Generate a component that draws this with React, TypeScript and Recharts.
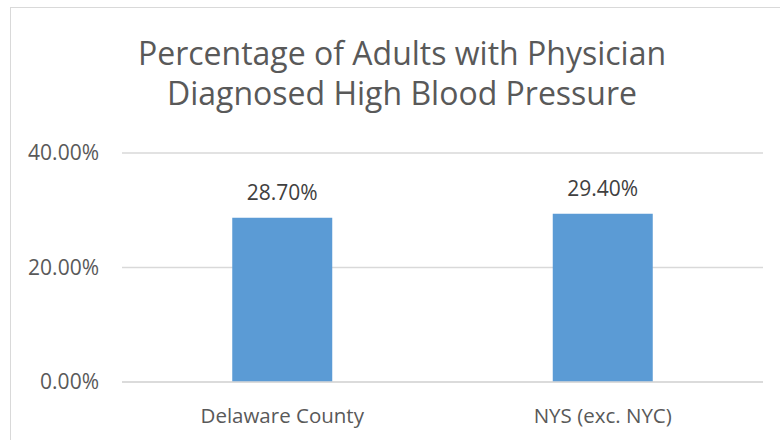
import React from 'react';
import { BarChart, Bar, XAxis, YAxis, CartesianGrid, LabelList } from 'recharts';

const categories = ['Delaware County', 'NYS (exc. NYC)'];
const values = [28.7, 29.4];
const yTicks = [0, 20, 40];
const titleLines = ['Percentage of Adults with Physician', 'Diagnosed High Blood Pressure'];

const data = categories.map((name, i) => ({ name, value: values[i] }));

const FONT = '"Open Sans", "Liberation Sans", sans-serif';
const TEXT = '#595959';
const fmt = (v: number) => `${Number(v).toFixed(2)}%`;

export default function App() {
  return (
    <div style={{ position: 'absolute', left: 0, top: 0, width: 780, height: 440, overflow: 'hidden', background: '#fff', fontFamily: FONT }}>
      <div style={{ position: 'absolute', left: 10, top: 7, width: 820, height: 520, border: '1px solid #d9d9d9', boxSizing: 'border-box' }} />
      <div style={{ position: 'absolute', left: 0, top: 33, width: 804, textAlign: 'center', fontSize: 32, lineHeight: '40px', color: TEXT }}>
        {titleLines.map((t) => (
          <div key={t}>{t}</div>
        ))}
      </div>
      <div style={{ position: 'absolute', left: 0, top: 0 }}>
        <BarChart width={780} height={440} data={data} margin={{ top: 153, right: 17, bottom: 0, left: 0 }} barCategoryGap="34.4%">
          <CartesianGrid vertical={false} stroke="#d9d9d9" strokeWidth={1.3} />
          <XAxis
            dataKey="name"
            height={58}
            axisLine={{ stroke: '#d9d9d9', strokeWidth: 1.3 }}
            tickLine={false}
            tickSize={0}
            tickMargin={26}
            tick={{ fill: TEXT, fontSize: 20.5, fontFamily: FONT }}
          />
          <YAxis
            width={122}
            domain={[0, 40]}
            ticks={yTicks}
            axisLine={false}
            tickLine={false}
            tickSize={0}
            tickMargin={23}
            tickFormatter={fmt}
            tick={{ fill: TEXT, fontSize: 21, fontFamily: FONT }}
          />
          <Bar dataKey="value" fill="#5B9BD5" isAnimationActive={false}>
            <LabelList dataKey="value" position="top" offset={18} formatter={fmt} fill="#404040" fontSize={21} fontFamily={FONT} />
          </Bar>
        </BarChart>
      </div>
    </div>
  );
}
